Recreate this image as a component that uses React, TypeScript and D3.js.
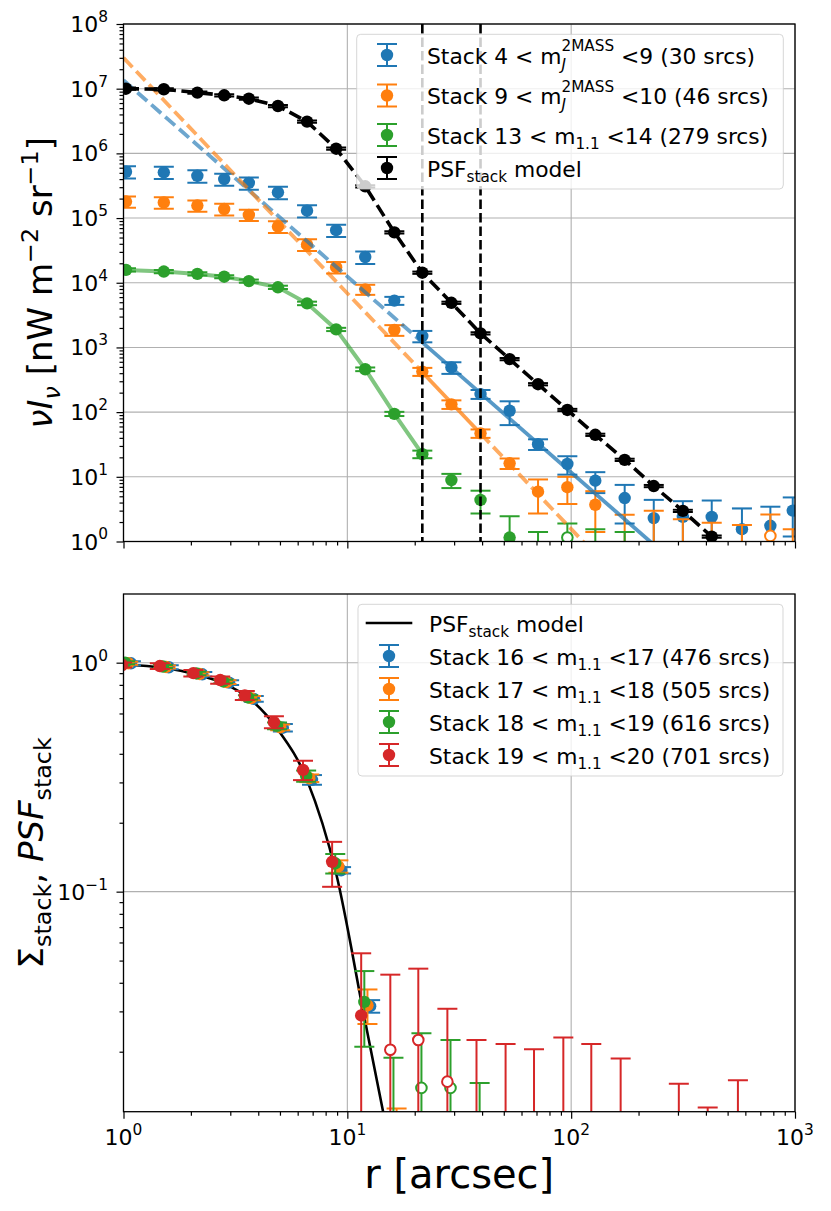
import React, { useRef, useEffect } from "react";
import * as d3 from "d3";

// shared radial bins [arcsec]
const R = [1.026, 1.514, 2.138, 2.818, 3.631, 4.898, 6.607, 8.913, 12.02, 16.22, 21.63, 29.17,
  39.36, 53.09, 71.12, 96.16, 128.2, 173.4, 233.9, 315.5, 424.6, 579.4, 776.2, 977.2];

// ---- top panel: nu I_nu [nW m^-2 sr^-1], negative value = open marker at |value|
const topBlue = [5.2e5, 5.1e5, 4.5e5, 4.0e5, 3.5e5, 2.5e5, 1.3e5, 6.5e4, 2.5e4, 5.3e3, 1.5e3, 490,
  190, 105, 32, 15.8, 8.7, 4.7, 2.3, 2.4, 2.4, 1.55, 1.75, 3.0];
const topBlueErr = [1.1e5, 1.1e5, 1.0e5, 8.5e4, 7.5e4, 5.5e4, 2.8e4, 1.4e4, 5.5e3, 750, 300, 100,
  30, 42, 6, 5, 3.1, 2.8, 2.1, 1.8, 1.9, 1.7, 1.7, 1.8];
const topOrange = [1.8e5, 1.74e5, 1.56e5, 1.38e5, 1.12e5, 7.4e4, 3.9e4, 1.74e4, 7.9e3, 1.86e3, 423, 132,
  47, 16.2, 5.9, 6.9, 3.7, 0.5, 0.8, 0.5, 0.4, 0.3, -1.22, 0.2];
const topOrangeErr = [3.6e4, 3.5e4, 3.1e4, 2.8e4, 2.2e4, 1.5e4, 8e3, 3.5e3, 1.4e3, 350, 60, 20,
  7, 3, 3.2, 3.1, 2.3, 2.1, 2.2, 1.7, 1.55, 1.5, 1.4, 1.35];
const topGreen = [1.58e4, 1.49e4, 1.37e4, 1.24e4, 1.06e4, 8.5e3, 4.8e3, 1.9e3, 460, 94, 22.4, 8.9,
  4.4, 1.15, 0.4, -1.15, 0.5, 0.4];
const topGreenErr = [900, 850, 800, 700, 600, 500, 300, 110, 30, 7, 3, 2.2, 1.7, 1.3, 1.0, 0.75, 1.05, 1.0];
const topBlack = [1.0e7, 9.8e6, 8.7e6, 7.9e6, 7.0e6, 5.4e6, 3.1e6, 1.18e6, 3.1e5, 6.0e4, 1.43e4, 4.9e3,
  1.65e3, 660, 270, 108, 44.6, 18.3, 7.2, 2.97, 1.19];
const topBlackErr = topBlack.map((v) => v * 0.04);

// power-law model fits (nodes) and their line style per segment
const blueModelR = [1, 21.63, 1000];
const blueModelY = [1.35e7, 1.2e3, 0.011];
const blueModelStyle = ["dash", "solid"];
const orangeModelR = [1, 21.63, 39.36, 1000];
const orangeModelY = [3.0e7, 414, 46.8, 3.5e-4];
const orangeModelStyle = ["dash", "solid", "dash"];
const fitLimits = [21.63, 39.36];
const greenLineN = 11;

const topLabels = [
  { color: "#1f77b4", main: "Stack 4 < m", sub: "J", sup: "2MASS", tail: " <9 (30 srcs)" },
  { color: "#ff7f0e", main: "Stack 9 < m", sub: "J", sup: "2MASS", tail: " <10 (46 srcs)" },
  { color: "#2ca02c", main: "Stack 13 < m", sub: "1.1", sup: "", tail: " <14 (279 srcs)" },
  { color: "#000000", main: "PSF", sub: "stack", sup: "", tail: " model" },
];

// ---- bottom panel: normalised profiles
const bottomOffsetDex = { blue: 0.022, orange: 0.01, green: -0.004, red: -0.018 };
const botBlue = [0.994, 0.955, 0.89, 0.818, 0.695, 0.52, 0.308, 0.124, 0.0316];
const botBlueErr = [0.02, 0.02, 0.02, 0.02, 0.02, 0.02, 0.015, 0.004, 0.002];
const botOrange = [0.995, 0.958, 0.893, 0.822, 0.7, 0.522, 0.313, 0.129, 0.0319, 0.004];
const botOrangeErr = [0.015, 0.015, 0.015, 0.015, 0.015, 0.015, 0.012, 0.008, 0.0055, 0.0073];
const botGreen = [1.0, 0.962, 0.897, 0.828, 0.705, 0.53, 0.32, 0.133, 0.033, 0.005, -0.0139, -0.0139, 0.005];
const botGreenErr = [0.015, 0.015, 0.015, 0.015, 0.015, 0.018, 0.018, 0.013, 0.012, 0.0138, 0.0102, 0.0086, 0.0096];
const botRed = [0.977, 0.967, 0.9, 0.84, 0.72, 0.55, 0.34, 0.135, 0.0288, -0.0204, -0.0225, -0.0148,
  0.004, 0.004, 0.004, 0.004, 0.004, 0.004, null, 0.004, 0.004, 0.004];
const botRedErr = [0.025, 0.028, 0.03, 0.03, 0.033, 0.033, 0.033, 0.03, 0.025, 0.023, 0.0236, 0.016,
  0.0185, 0.0176, 0.0165, 0.0191, 0.0176, 0.0147, null, 0.0105, 0.0074, 0.011];
const botModelR = [1.0, 1.514, 2.138, 2.818, 3.631, 4.898, 6.607, 8.913, 12.02, 16.22];
const botModelY = [0.98, 0.95, 0.885, 0.81, 0.7, 0.51, 0.307, 0.12, 0.027, 0.0062];

const botLabels = [
  { color: "#1f77b4", lo: "16", hi: "17", n: "476" },
  { color: "#ff7f0e", lo: "17", hi: "18", n: "505" },
  { color: "#2ca02c", lo: "18", hi: "19", n: "616" },
  { color: "#d62728", lo: "19", hi: "20", n: "701" },
];

type Seg = { t: string; s?: number; dy?: number; it?: boolean; stack?: boolean };

// one <text> per label; pieces are tspans placed one after another (measured)
function richText(parent: any, x: number, y: number, segs: Seg[], fs: number,
  anchor = "start", rot = "") {
  const grp = parent.append("g");
  const text = grp.append("text").attr("fill", "#000").attr("font-size", fs);
  let cx = 0, prevStart = 0, prevW = 0;
  for (const seg of segs) {
    if (!seg.t) continue;
    const start = seg.stack ? prevStart : cx;
    const el = text.append("tspan")
      .attr("x", start)
      .attr("y", (seg.dy ?? 0) * fs)
      .attr("font-size", fs * (seg.s ?? 1))
      .attr("font-style", seg.it ? "italic" : "normal")
      .text(seg.t.replace(/ /g, "\u00a0"));
    const w = (el.node() as SVGTextContentElement).getComputedTextLength();
    if (seg.stack) cx = prevStart + Math.max(prevW, w);
    else { prevStart = start; prevW = w; cx = start + w; }
  }
  const shift = anchor === "middle" ? -cx / 2 : anchor === "end" ? -cx : 0;
  grp.attr("transform", `translate(${x},${y}) ${rot} translate(${shift},0)`);
  return grp;
}

function logTicks(lo: number, hi: number) {
  const major: number[] = [], minor: number[] = [];
  for (let e = Math.floor(Math.log10(lo)); e <= Math.ceil(Math.log10(hi)); e++) {
    for (let k = 1; k < 10; k++) {
      const v = k * Math.pow(10, e);
      if (v < lo * (1 - 1e-9) || v > hi * (1 + 1e-9)) continue;
      (k === 1 ? major : minor).push(v);
    }
  }
  return { major, minor };
}

function powLabel(v: number): Seg[] {
  const e = Math.round(Math.log10(v));
  return [{ t: "10" }, { t: e < 0 ? "\u2212" + -e : String(e), s: 0.7, dy: -0.46 }];
}

function drawErrorSeries(g: any, x: any, y: any, rs: number[], vs: (number | null)[],
  es: (number | null)[], color: string, yFloor: number, dex = 0) {
  rs.forEach((rr, i) => {
    const v = vs[i];
    if (v == null || i >= vs.length) return;
    const e = es[i] ?? 0;
    const a = Math.abs(v);
    const cx = x(rr * Math.pow(10, dex));
    const yHi = y(a + e);
    const lo = a - e;
    const yLo = lo > 0 ? y(lo) : yFloor + 40;
    g.append("line").attr("x1", cx).attr("x2", cx).attr("y1", yHi).attr("y2", yLo)
      .attr("stroke", color).attr("stroke-width", 2);
    g.append("line").attr("x1", cx - 10).attr("x2", cx + 10).attr("y1", yHi).attr("y2", yHi)
      .attr("stroke", color).attr("stroke-width", 2);
    if (lo > 0)
      g.append("line").attr("x1", cx - 10).attr("x2", cx + 10).attr("y1", yLo).attr("y2", yLo)
        .attr("stroke", color).attr("stroke-width", 2);
    if (v > 0) g.append("circle").attr("cx", cx).attr("cy", y(a)).attr("r", 6.2).attr("fill", color);
    else g.append("circle").attr("cx", cx).attr("cy", y(a)).attr("r", 5.3)
      .attr("fill", "#fff").attr("stroke", color).attr("stroke-width", 2);
  });
}

function errHandle(g: any, cx: number, cy: number, color: string) {
  g.append("line").attr("x1", cx).attr("x2", cx).attr("y1", cy - 11).attr("y2", cy + 11)
    .attr("stroke", color).attr("stroke-width", 2);
  [cy - 11, cy + 11].forEach((yy) =>
    g.append("line").attr("x1", cx - 10).attr("x2", cx + 10).attr("y1", yy).attr("y2", yy)
      .attr("stroke", color).attr("stroke-width", 2));
  g.append("circle").attr("cx", cx).attr("cy", cy).attr("r", 6.2).attr("fill", color);
}

export default function App() {
  const svgRef = useRef<SVGSVGElement | null>(null);

  useEffect(() => {
    const svg = d3.select(svgRef.current);
    svg.selectAll("*").remove();
    svg.append("rect").attr("width", 831).attr("height", 1211).attr("fill", "#fff");

    const TICK_FS = 22;
    const LEG_FS = 21.8;

    const makePanel = (box: any, yDomain: [number, number], id: string, xLabels: boolean) => {
      const x = d3.scaleLog().domain([1, 1000]).range([box.left, box.right]);
      const y = d3.scaleLog().domain(yDomain).range([box.bottom, box.top]);
      svg.append("clipPath").attr("id", id).append("rect")
        .attr("x", box.left).attr("y", box.top)
        .attr("width", box.right - box.left).attr("height", box.bottom - box.top);

      const xt = logTicks(1, 1000);
      const yt = logTicks(yDomain[0], yDomain[1]);

      // grid
      const grid = svg.append("g");
      xt.major.forEach((v) => grid.append("line").attr("x1", x(v)).attr("x2", x(v))
        .attr("y1", box.top).attr("y2", box.bottom).attr("stroke", "#b0b0b0").attr("stroke-width", 1.1));
      yt.major.forEach((v) => grid.append("line").attr("x1", box.left).attr("x2", box.right)
        .attr("y1", y(v)).attr("y2", y(v)).attr("stroke", "#b0b0b0").attr("stroke-width", 1.1));

      const plot = svg.append("g").attr("clip-path", `url(#${id})`);

      const finish = () => {
        svg.append("rect").attr("x", box.left).attr("y", box.top)
          .attr("width", box.right - box.left).attr("height", box.bottom - box.top)
          .attr("fill", "none").attr("stroke", "#000").attr("stroke-width", 1.3);

        const axes = svg.append("g");
        const addAxis = (axis: any, tr: string, size: number) => {
          const a = axes.append("g").attr("transform", tr)
            .call(axis.tickSize(size).tickFormat(() => ""));
          a.select(".domain").remove();
          a.selectAll("text").remove();
          a.selectAll("line").attr("stroke", "#000").attr("stroke-width", 1.2);
        };
        addAxis(d3.axisBottom(x).tickValues(xt.major), `translate(0,${box.bottom})`, 7);
        addAxis(d3.axisBottom(x).tickValues(xt.minor), `translate(0,${box.bottom})`, 4);
        addAxis(d3.axisLeft(y).tickValues(yt.major), `translate(${box.left},0)`, 7);
        addAxis(d3.axisLeft(y).tickValues(yt.minor), `translate(${box.left},0)`, 4);

        yt.major.forEach((v) => richText(svg, 108, y(v) + 8, powLabel(v), TICK_FS, "end"));
        if (xLabels)
          xt.major.forEach((v) => richText(svg, x(v), box.bottom + 33.5, powLabel(v), TICK_FS, "middle"));
      };
      return { x, y, plot, finish };
    };

    // ================= TOP PANEL =================
    const T = { left: 123.5, right: 795, top: 24, bottom: 541.5 };
    const top = makePanel(T, [1, 1e8], "clipTop", false);
    const { x: xT, y: yT, plot: pT } = top;

    drawErrorSeries(pT, xT, yT, R, topBlue, topBlueErr, "#1f77b4", T.bottom);
    drawErrorSeries(pT, xT, yT, R, topOrange, topOrangeErr, "#ff7f0e", T.bottom);
    drawErrorSeries(pT, xT, yT, R, topGreen, topGreenErr, "#2ca02c", T.bottom);

    const seg = (rs: number[], ys: number[], styles: string[], color: string) => {
      styles.forEach((st, i) => {
        pT.append("line")
          .attr("x1", xT(rs[i])).attr("y1", yT(ys[i]))
          .attr("x2", xT(rs[i + 1])).attr("y2", yT(ys[i + 1]))
          .attr("stroke", color).attr("stroke-width", 3.8)
          .attr("stroke-opacity", st === "dash" ? 0.65 : 0.75)
          .attr("stroke-dasharray", st === "dash" ? "13,5.5" : null);
      });
    };
    seg(blueModelR, blueModelY, blueModelStyle, "#1f77b4");
    seg(orangeModelR, orangeModelY, orangeModelStyle, "#ff7f0e");

    const line = d3.line<[number, number]>().x((d) => xT(d[0])).y((d) => yT(d[1]));
    pT.append("path")
      .datum(R.slice(0, greenLineN).map((r, i) => [r, topGreen[i]] as [number, number]))
      .attr("d", line).attr("fill", "none")
      .attr("stroke", "#2ca02c").attr("stroke-opacity", 0.6).attr("stroke-width", 4);

    drawErrorSeries(pT, xT, yT, R, topBlack, topBlackErr, "#000", T.bottom);
    pT.append("path")
      .datum(topBlack.map((v, i) => [R[i], v] as [number, number]))
      .attr("d", line).attr("fill", "none")
      .attr("stroke", "#000").attr("stroke-width", 3.6).attr("stroke-dasharray", "13,5.5");

    fitLimits.forEach((r) => pT.append("line")
      .attr("x1", xT(r)).attr("x2", xT(r)).attr("y1", T.top).attr("y2", T.bottom)
      .attr("stroke", "#000").attr("stroke-width", 2.6).attr("stroke-dasharray", "9.5,4"));

    top.finish();

    // top legend
    const lgT = svg.append("g");
    lgT.append("rect").attr("x", 356.7).attr("y", 34.3).attr("width", 426.6).attr("height", 154.7)
      .attr("rx", 4).attr("fill", "#fff").attr("fill-opacity", 0.8)
      .attr("stroke", "#cccccc").attr("stroke-opacity", 0.8).attr("stroke-width", 1);
    const topRows = [55, 95.5, 135, 168];
    topLabels.forEach((lab, i) => {
      const cy = topRows[i];
      errHandle(lgT, 387, cy, lab.color);
      const segs: Seg[] = [{ t: lab.main }];
      if (lab.sup) {
        segs.push({ t: lab.sub, s: 0.7, dy: 0.28, it: true });
        segs.push({ t: lab.sup, s: 0.7, dy: -0.56, stack: true });
      } else segs.push({ t: lab.sub, s: 0.7, dy: 0.23 });
      segs.push({ t: lab.tail });
      richText(lgT, 427, cy + 8.5, segs, LEG_FS);
    });

    // ================= BOTTOM PANEL =================
    const B = { left: 123.5, right: 795, top: 594, bottom: 1111.7 };
    const bot = makePanel(B, [0.01094, 1.995], "clipBot", true);
    const { x: xB, y: yB, plot: pB } = bot;

    const mline = d3.line<[number, number]>().x((d) => xB(d[0])).y((d) => yB(d[1]))
      .curve(d3.curveMonotoneX);
    pB.append("path")
      .datum(botModelR.map((r, i) => [r, botModelY[i]] as [number, number]))
      .attr("d", mline).attr("fill", "none").attr("stroke", "#000").attr("stroke-width", 2.6);

    drawErrorSeries(pB, xB, yB, R, botBlue, botBlueErr, "#1f77b4", B.bottom, bottomOffsetDex.blue);
    drawErrorSeries(pB, xB, yB, R, botOrange, botOrangeErr, "#ff7f0e", B.bottom, bottomOffsetDex.orange);
    drawErrorSeries(pB, xB, yB, R, botGreen, botGreenErr, "#2ca02c", B.bottom, bottomOffsetDex.green);
    drawErrorSeries(pB, xB, yB, R, botRed, botRedErr, "#d62728", B.bottom, bottomOffsetDex.red);

    bot.finish();

    // bottom legend
    const lgB = svg.append("g");
    lgB.append("rect").attr("x", 358).attr("y", 604.3).attr("width", 425).attr("height", 171.7)
      .attr("rx", 4).attr("fill", "#fff").attr("fill-opacity", 0.8)
      .attr("stroke", "#cccccc").attr("stroke-opacity", 0.8).attr("stroke-width", 1);
    lgB.append("line").attr("x1", 365.7).attr("x2", 412.3).attr("y1", 623).attr("y2", 623)
      .attr("stroke", "#000").attr("stroke-width", 2.6);
    richText(lgB, 429, 631.5, [{ t: "PSF" }, { t: "stack", s: 0.7, dy: 0.23 }, { t: " model" }], LEG_FS);
    botLabels.forEach((lab, i) => {
      const cy = 656 + i * 33;
      errHandle(lgB, 389, cy, lab.color);
      richText(lgB, 429, cy + 8.5, [
        { t: `Stack ${lab.lo} < m` },
        { t: "1.1", s: 0.7, dy: 0.23 },
        { t: ` <${lab.hi} (${lab.n} srcs)` },
      ], LEG_FS);
    });

    // axis labels
    richText(svg, 52, (T.top + T.bottom) / 2, [
      { t: "\u03bd", it: true }, { t: "I", it: true }, { t: "\u03bd", s: 0.7, dy: 0.23, it: true },
      { t: " [nW m" }, { t: "\u22122", s: 0.7, dy: -0.42 }, { t: " sr" },
      { t: "\u22121", s: 0.7, dy: -0.42 }, { t: "]" },
    ], 34, "middle", "rotate(-90)");
    richText(svg, 43, (B.top + B.bottom) / 2, [
      { t: "\u03a3" }, { t: "stack", s: 0.7, dy: 0.23 }, { t: ", " },
      { t: "PSF", it: true }, { t: "stack", s: 0.7, dy: 0.23 },
    ], 34, "middle", "rotate(-90)");
    richText(svg, (B.left + B.right) / 2, 1188, [{ t: "r [arcsec]" }], 40, "middle");
  }, []);

  return (
    <svg
      ref={svgRef}
      width={831}
      height={1211}
      fontFamily="DejaVu Sans, sans-serif"
      style={{ position: "absolute", left: 0, top: 0 }}
    ></svg>
  );
}
